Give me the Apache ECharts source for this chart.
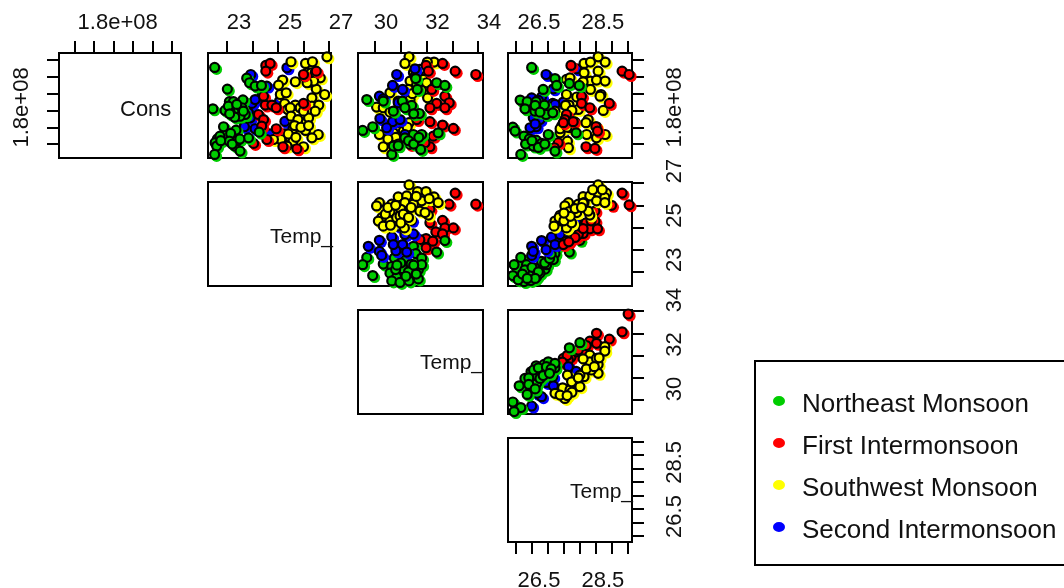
<!DOCTYPE html>
<html><head><meta charset="utf-8">
<style>html,body{margin:0;padding:0;background:#fff}#c{width:1064px;height:588px}</style>
<script src="https://cdn.jsdelivr.net/npm/echarts@6/dist/echarts.min.js"></script>
</head><body><div id="c"></div>
<script>
// Cons is held in units of 1e8.  Temp_a / Temp_b / Temp_c are the three truncated "Temp_" variables.
const consTicks=[1.6,1.7,1.8,1.9,2.0,2.1], consLabels=[1.8];
const tempATicks=[23,24,25,26,27], tempALabels=[23,25,27];
const tempBTicks=[30,31,32,33,34], tempBLabels=[30,32,34];
const tempCTicks=[26,26.5,27,27.5,28,28.5,29,29.5], tempCLabels=[26.5,28.5];
const seasons=['Northeast Monsoon','First Intermonsoon','Southwest Monsoon','Second Intermonsoon'];
const seasonColors=['#00cd00','#ff0000','#ffff00','#0000ff'];

// [Temp_a, Cons]
const aConsGreen=[[22.51,2.056],[23.77,1.992],[23.01,1.927],[23.88,1.965],[24.10,1.945],[24.35,1.949],[22.44,1.81],[23.09,1.852],[23.25,1.852],[23.62,1.863],[22.92,1.80],[23.18,1.776],[23.45,1.806],[23.58,1.816],[22.86,1.703],[23.35,1.683],[23.14,1.663],[22.62,1.631],[22.53,1.608],[22.59,1.588],[23.09,1.617],[23.84,1.637],[24.26,1.671],[23.31,1.588],[23.51,1.558],[22.51,1.538],[22.72,1.647],[23.71,1.776],[23.51,1.766],[23.05,1.826],[23.38,1.836],[23.64,1.796],[23.3,1.76],[23.4,1.62],[23.2,1.60],[23.5,1.63],[23.1,1.78],[22.75,1.62]];
const aConsRed=[[24.52,2.068],[24.69,2.08],[24.52,2.034],[26.0,2.014],[26.5,2.034],[24.50,1.832],[24.76,1.832],[24.93,1.816],[24.23,1.776],[24.43,1.746],[24.36,1.707],[26.0,1.842],[24.93,1.691],[24.56,1.627],[24.04,1.604],[25.19,1.584],[25.74,1.572],[24.43,1.885]];
const aConsYellow=[[25.51,2.09],[26.08,2.08],[26.35,2.09],[26.16,2.024],[26.31,2.024],[26.46,2.024],[26.66,1.994],[26.27,1.969],[25.18,1.981],[25.02,1.951],[25.68,1.971],[26.5,1.927],[25.09,1.895],[25.32,1.905],[26.83,1.895],[26.33,1.875],[25.68,1.832],[25.26,1.84],[26.33,1.826],[26.6,1.832],[25.38,1.806],[25.48,1.816],[26.27,1.786],[26.46,1.796],[25.51,1.766],[25.78,1.746],[26.11,1.727],[25.59,1.691],[25.24,1.661],[26.08,1.681],[25.48,1.637],[25.59,1.617],[26.58,1.657],[26.33,1.637],[26.0,1.584],[26.92,2.119],[26.2,1.756],[25.87,1.816],[25.11,1.627],[24.82,1.627],[25.35,1.588],[26.4,1.975],[26.14,1.965],[26.0,1.796],[25.65,1.71],[25.9,1.70],[26.2,1.71],[25.4,1.66],[25.7,1.64],[26.05,2.0]];
const aConsBlue=[[25.35,2.054],[23.93,2.014],[24.56,1.945],[24.36,1.885],[23.97,1.842],[24.10,1.865],[25.06,1.856],[23.58,1.746],[23.91,1.756],[23.68,1.703],[24.10,1.691],[25.27,1.735],[24.67,1.661],[23.64,1.836],[23.84,1.786]];

// [Temp_b, Cons]
const bConsGreen=[[29.68,1.865],[31.58,1.99],[31.64,1.925],[32.39,1.965],[32.71,1.949],[30.32,1.856],[31.06,1.856],[31.42,1.83],[31.16,1.816],[31.72,1.782],[30.71,1.796],[29.52,1.681],[29.91,1.703],[32.45,1.667],[31.81,1.657],[31.55,1.623],[31.16,1.637],[30.65,1.538],[30.71,1.588],[31.77,1.568],[31.49,1.657],[31.3,1.62],[31.5,1.60],[30.9,1.59],[31.7,1.64],[31.5,1.78]];
const bConsRed=[[31.98,2.068],[32.07,2.034],[32.62,2.08],[33.11,2.034],[33.91,2.014],[32.2,1.925],[32.71,1.885],[32.39,1.842],[32.88,1.846],[32.71,1.816],[32.13,1.816],[31.62,1.746],[32.13,1.733],[32.62,1.713],[33.04,1.693],[32.13,1.584],[31.94,1.608],[31.36,1.598],[32.26,1.647]];
const bConsYellow=[[31.32,2.119],[31.16,2.08],[32.29,2.088],[32.03,2.088],[31.49,2.024],[31.87,1.985],[31.36,1.975],[31.62,1.955],[30.58,1.905],[31.29,1.925],[32.04,1.875],[30.06,1.82],[30.32,1.816],[31.36,1.865],[30.58,1.79],[31.32,1.727],[30.58,1.697],[30.17,1.657],[30.71,1.667],[30.58,1.617],[30.32,1.584],[31.55,1.627],[31.10,1.677],[31.55,2.004],[31.74,2.044],[30.84,1.727],[30.90,1.856],[32.0,1.965],[31.45,1.90],[31.2,1.82],[30.8,1.64],[30.9,1.60],[31.25,1.70],[30.5,1.63],[31.8,1.92],[31.6,2.0]];
const bConsBlue=[[30.84,2.014],[30.68,1.949],[31.07,1.925],[30.17,1.885],[30.32,1.869],[30.90,1.846],[30.19,1.752],[30.68,1.733],[30.97,1.746],[30.45,1.697],[31.16,1.657],[31.55,2.048]];

// [Temp_c, Cons]
const cConsGreen=[[26.49,2.056],[27.22,1.99],[27.67,1.961],[27.98,1.949],[27.27,1.949],[26.85,1.925],[26.13,1.862],[26.35,1.852],[26.63,1.852],[26.89,1.832],[26.28,1.81],[26.59,1.796],[26.94,1.776],[27.15,1.786],[25.9,1.701],[25.97,1.677],[26.25,1.647],[26.42,1.631],[26.63,1.623],[27.01,1.657],[26.8,1.604],[26.54,1.588],[27.88,1.667],[26.15,1.538],[27.22,1.558],[26.3,1.60],[26.7,1.58],[26.9,1.60],[26.5,1.62],[26.6,1.83],[26.75,1.79]];
const cConsRed=[[27.72,2.068],[29.32,2.034],[29.54,2.014],[28.05,1.885],[28.05,1.842],[28.31,1.816],[28.92,1.842],[27.58,1.776],[27.53,1.746],[27.79,1.733],[27.48,1.727],[28.5,1.703],[28.55,1.677],[28.19,1.584],[28.47,1.574],[27.32,1.608],[27.2,1.578]];
const cConsYellow=[[28.13,2.08],[28.33,2.088],[28.79,2.088],[28.13,2.024],[28.57,2.119],[28.57,2.034],[28.33,1.975],[28.52,1.981],[28.79,1.975],[28.33,1.925],[28.66,1.895],[27.58,1.985],[27.69,1.994],[27.58,1.895],[28.63,1.885],[27.66,1.832],[28.73,1.80],[27.22,1.796],[27.95,1.806],[28.26,1.746],[28.19,1.727],[27.43,1.707],[27.38,1.667],[28.52,1.703],[28.21,1.657],[28.79,1.657],[28.52,1.637],[27.61,1.617],[27.38,1.691],[27.69,1.697],[27.64,1.578],[27.55,1.83],[27.75,1.80],[27.6,1.70],[27.85,1.73],[27.9,1.88],[28.1,1.97]];
const cConsBlue=[[26.94,2.014],[27.9,2.048],[27.17,1.929],[26.49,1.875],[26.8,1.881],[27.48,1.85],[27.15,1.842],[26.54,1.756],[26.75,1.746],[26.63,1.703],[26.44,1.697],[27.43,1.657],[27.22,1.836],[26.6,1.72],[26.7,1.86]];

// [Temp_b, Temp_a]
const bAGreen=[[32.71,24.41],[32.39,23.89],[31.49,24.15],[31.58,23.82],[30.75,23.62],[29.68,23.65],[29.52,23.32],[30.32,23.35],[31.16,23.5],[29.91,22.83],[30.65,23.24],[31.4,23.35],[31.81,23.62],[31.68,23.09],[31.07,23.14],[30.58,22.94],[30.84,22.76],[30.65,22.59],[30.97,22.52],[31.32,22.59],[31.68,22.68],[31.81,23.32],[31.3,23.0],[31.5,23.3],[31.0,23.4],[30.8,23.1],[31.2,22.8],[31.6,22.9],[30.85,23.3]];
const bARed=[[33.11,26.55],[32.87,26.05],[33.91,26.05],[32.13,25.82],[32.13,25.21],[32.62,25.32],[32.71,24.98],[33.04,24.98],[32.36,24.8],[32.62,24.71],[31.98,24.5],[32.24,24.38],[31.98,24.08],[31.74,24.45]];
const bAYellow=[[31.32,26.92],[31.65,26.62],[31.98,26.62],[32.29,26.38],[32.45,26.12],[30.90,26.38],[31.23,26.42],[31.16,26.12],[30.65,26.05],[30.17,26.12],[30.06,25.97],[31.0,25.82],[30.58,25.71],[30.26,25.44],[30.13,25.29],[30.58,25.29],[30.32,25.06],[31.81,26.2],[31.49,26.05],[31.74,25.74],[32.07,25.56],[31.14,24.98],[31.94,25.67],[30.84,25.44],[30.97,25.52],[30.4,25.6],[30.5,25.9],[30.8,26.0],[31.1,25.6],[31.4,25.9],[31.6,26.4],[30.6,25.1],[31.0,25.2],[31.3,25.45],[32.1,26.3]];
const bABlue=[[31.42,25.32],[30.90,25.06],[30.65,24.58],[31.16,24.68],[31.49,24.71],[30.17,24.42],[29.74,24.15],[31.07,24.23],[30.81,23.95],[30.17,23.92],[30.26,23.74],[31.23,23.89],[30.71,24.23]];

// [Temp_c, Temp_a]
const cAGreen=[[28.0,24.42],[27.67,23.89],[27.27,24.15],[27.22,23.82],[26.91,23.12],[26.15,23.65],[25.94,23.32],[25.9,22.83],[26.33,23.32],[26.8,23.47],[26.28,23.09],[26.59,23.17],[27.17,23.55],[26.96,23.32],[26.25,22.56],[26.46,22.61],[26.07,22.64],[26.65,22.79],[26.75,22.94],[26.5,23.2],[26.7,23.0],[26.9,23.4],[27.05,23.6],[26.6,22.7],[26.2,22.9],[26.35,22.7],[27.1,23.8]];
const cARed=[[29.32,26.55],[29.54,26.02],[28.99,26.0],[28.47,25.74],[28.47,25.29],[28.19,25.21],[28.31,24.94],[28.55,24.94],[28.1,24.73],[27.95,24.68],[27.72,24.48],[27.58,24.38],[27.48,24.23],[28.35,25.3],[28.1,24.95],[27.85,24.55],[27.65,24.35]];
const cAYellow=[[28.57,26.92],[28.83,26.55],[28.57,26.58],[28.10,26.39],[28.31,26.42],[28.78,26.35],[28.52,26.2],[28.13,26.12],[27.64,26.12],[27.53,25.97],[27.66,25.71],[27.95,26.05],[28.31,25.56],[28.26,25.74],[27.38,25.55],[27.43,25.29],[27.22,25.29],[27.19,25.06],[27.58,24.98],[27.74,25.21],[27.9,25.67],[28.78,26.12],[27.35,25.45],[27.5,25.3],[27.7,25.5],[27.85,25.85],[28.1,26.1],[28.4,26.7],[28.7,26.7],[27.5,25.65],[28.05,25.9]];
const cABlue=[[27.88,25.29],[27.11,24.56],[26.8,24.41],[27.38,24.68],[26.49,24.15],[26.94,24.0],[26.49,23.74],[26.54,23.92],[27.22,24.23]];

// [Temp_c, Temp_b]
const cBGreen=[[28.0,32.58],[27.67,32.35],[26.88,31.6],[27.22,31.45],[26.63,31.54],[27.01,31.72],[26.47,31.27],[26.28,30.97],[26.1,30.64],[26.47,30.55],[26.65,30.75],[26.85,31.35],[27.22,31.65],[26.35,30.25],[25.9,29.91],[26.15,29.66],[25.94,29.48],[26.59,31.12],[26.75,30.97],[26.4,31.0],[26.55,31.35],[26.7,31.45],[26.95,31.5],[27.1,31.4],[26.4,30.7],[26.6,30.5],[26.85,31.1],[27.05,31.2]];
const cBRed=[[29.51,33.87],[29.32,33.07],[28.52,33.0],[28.92,32.74],[28.31,32.65],[28.52,32.55],[28.1,32.47],[27.72,31.92],[27.48,31.87],[27.9,32.17],[27.64,31.8],[27.95,32.25],[28.2,32.45],[27.6,32.0],[27.45,31.7]];
const cBYellow=[[28.31,32.02],[28.78,32.4],[28.78,32.2],[28.57,31.6],[28.57,31.2],[28.13,31.05],[27.61,31.12],[28.31,31.72],[27.92,30.75],[27.46,30.55],[27.22,30.3],[27.69,30.45],[27.53,30.07],[28.52,31.87],[28.36,31.35],[27.74,30.82],[27.38,30.22],[28,31.12],[28.0,30.6],[28.2,31.4],[28.45,31.5],[27.75,30.35],[27.6,30.2],[27.95,31.0],[28.1,31.85],[28.6,31.9]];
const cBBlue=[[27.15,31.05],[26.94,30.79],[27.17,30.64],[27.88,31.29],[26.8,30.15],[26.49,29.73],[27.64,31.5],[26.65,30.3]];

const fam='"Liberation Sans",Arial,sans-serif';
const colLeft=[59,208,358,508], colWidth=[122,123,125,124];
const rowTop=[53,182,310,438], rowHeight=[105,104,104,104];
const xDefs=[
 {min:1.52,max:2.145,ticks:consTicks,labels:consLabels,shift:4,fmt:v=>v.toFixed(1)+'e+08'},
 {min:22.25,max:27.08,ticks:tempATicks,labels:tempALabels,shift:12,fmt:String},
 {min:29.34,max:34.19,ticks:tempBTicks,labels:tempBLabels,shift:11,fmt:String},
 {min:25.75,max:29.63,ticks:tempCTicks,labels:tempCLabels,shift:7,fmt:v=>v.toFixed(1)}];
const yDefs=[
 {min:1.517,max:2.142,ticks:consTicks,labels:consLabels,shift:3,fmt:v=>v.toFixed(1)+'e+08'},
 {min:22.36,max:27.05,ticks:tempATicks,labels:tempALabels,shift:12,fmt:String},
 {min:29.37,max:34.05,ticks:tempBTicks,labels:tempBLabels,shift:11,fmt:String},
 {min:25.78,max:29.62,ticks:tempCTicks,labels:tempCLabels,shift:6,fmt:v=>v.toFixed(1)}];

// each panel: row, col, and draw order of the four seasons (bottom to top)
const panels=[
 {r:0,c:0,top:1,left:1},
 {r:0,c:1,top:1,sets:[aConsBlue,aConsYellow,aConsRed,aConsGreen],ids:[3,2,1,0]},
 {r:0,c:2,top:1,sets:[bConsYellow,bConsRed,bConsBlue,bConsGreen],ids:[2,1,3,0]},
 {r:0,c:3,top:1,right:1,sets:[cConsBlue,cConsYellow,cConsRed,cConsGreen],ids:[3,2,1,0]},
 {r:1,c:1},
 {r:1,c:2,sets:[bARed,bAGreen,bABlue,bAYellow],ids:[1,0,3,2]},
 {r:1,c:3,right:1,sets:[cAGreen,cABlue,cARed,cAYellow],ids:[0,3,1,2]},
 {r:2,c:2},
 {r:2,c:3,right:1,sets:[cBRed,cBBlue,cBYellow,cBGreen],ids:[1,3,2,0]},
 {r:3,c:3,right:1,bottom:1}];

const lbl=(d,margin,rotate)=>({show:margin>0,customValues:d.labels,formatter:v=>d.fmt(v),margin,rotate,
  fontFamily:fam,fontSize:22,color:'#111',align:'center',verticalAlign:rotate?'middle':undefined,
  padding:[0,0,0,2*d.shift],hideOverlap:false,showMinLabel:true,showMaxLabel:true});
const tick=(d,on)=>({show:!!on,customValues:d.ticks,length:12,lineStyle:{color:'#000',width:2}});

const grid=[],xAxis=[],yAxis=[],series=[];
panels.forEach((p,i)=>{
  grid.push({left:colLeft[p.c],top:rowTop[p.r],width:colWidth[p.c],height:rowHeight[p.r],show:true,
    outerBoundsMode:'none',containLabel:false,
    borderColor:'#000',borderWidth:2,backgroundColor:'#fff',z:1});
  const dx=xDefs[p.c], dy=yDefs[p.r];
  xAxis.push({type:'value',gridIndex:i,min:dx.min,max:dx.max,position:p.bottom?'bottom':'top',
    axisLine:{show:false},splitLine:{show:false},axisTick:tick(dx,p.top||p.bottom),
    axisLabel:lbl(dx,p.top?19:(p.bottom?28:0),0)});
  yAxis.push({type:'value',gridIndex:i,min:dy.min,max:dy.max,position:p.right?'right':'left',
    axisLine:{show:false},splitLine:{show:false},axisTick:tick(dy,p.left||p.right),
    axisLabel:lbl(dy,p.left?37:(p.right?43:0),90)});
  (p.sets||[]).forEach((data,k)=>{
    const name=seasons[p.ids[k]], color=seasonColors[p.ids[k]];
    const base={type:'scatter',name,data,xAxisIndex:i,yAxisIndex:i,clip:false,silent:true,z:3};
    series.push(Object.assign({},base,{symbolSize:11,symbolOffset:[2,2],itemStyle:{color,opacity:1}}));
    series.push(Object.assign({},base,{symbolSize:9,itemStyle:{color,borderColor:'#000',borderWidth:2.2,opacity:1}}));
  });
});

const diagText=(text,x,y,size)=>({type:'text',x,y,z:20,style:{text,fill:'#111',font:size+'px '+fam,align:'left',verticalAlign:'middle'}});

echarts.init(document.getElementById('c')).setOption({
  animation:false,backgroundColor:'#fff',grid,xAxis,yAxis,series,
  legend:{left:773,top:392,orient:'vertical',itemWidth:12,itemHeight:18,itemGap:16,
    icon:'path://M0 5A6 5 0 1 1 12 5A6 5 0 1 1 0 5ZM6 18L6 18Z',
    data:seasons,selectedMode:false,padding:0,
    itemStyle:{borderWidth:0},
    textStyle:{fontFamily:fam,fontSize:26,color:'#111',padding:[4,0,0,12]}},
  graphic:[
    diagText('Cons',120,110,22),diagText('Temp_',270,237,21),diagText('Temp_',420,363,21),diagText('Temp_',570,492,21),
    {type:'rect',shape:{x:755,y:361,width:330,height:204},z:0,style:{fill:'none',stroke:'#000',lineWidth:2}}
  ]
});
</script></body></html>
